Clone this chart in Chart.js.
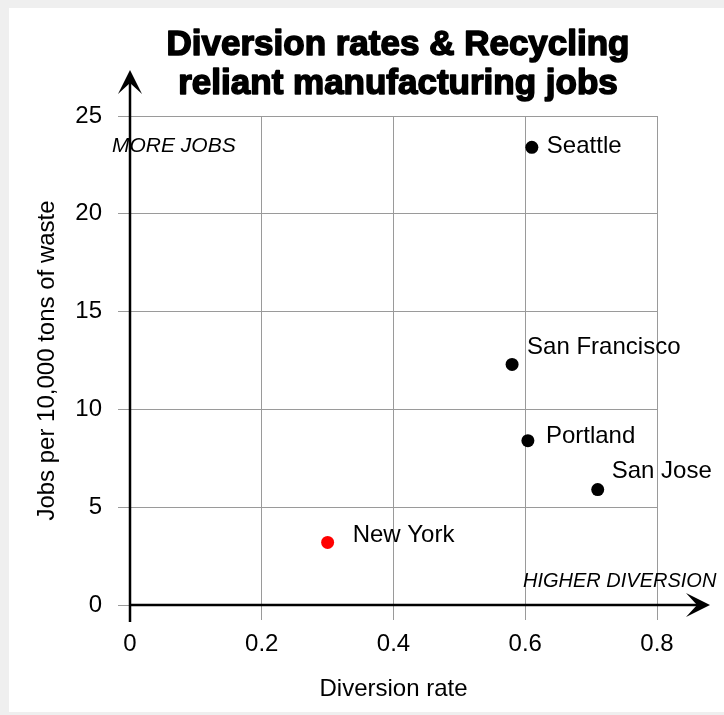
<!DOCTYPE html>
<html>
<head>
<meta charset="utf-8">
<script src="https://cdn.jsdelivr.net/npm/chart.js@4.4.1/dist/chart.umd.min.js"></script>
<style>
  html, body { margin: 0; padding: 0; background: #efefef; }
  canvas { display: block; }
</style>
</head>
<body>
<canvas id="chart" width="724" height="715"></canvas>
<script>
const cities = ['Seattle', 'San Francisco', 'Portland', 'San Jose', 'New York'];
const diversion = [0.61, 0.58, 0.604, 0.71, 0.30];
const jobs = [23.4, 12.3, 8.4, 5.9, 3.2];
const point_colors = ['#000', '#000', '#000', '#000', '#ff0000'];
const x_ticks = [0, 0.2, 0.4, 0.6, 0.8];
const y_ticks = [0, 5, 10, 15, 20, 25];
const title_lines = ['Diversion rates & Recycling', 'reliant manufacturing jobs'];

// where each city name sits relative to its dot
const label_offsets = [[15, -1], [15, -17], [18, -4], [14, -18], [25, -7]];

const FONT = '"Liberation Sans", Arial, sans-serif';

function arrow_head(ctx, tx, ty, dir) {
    // dir: 'up' or 'right'
    ctx.beginPath();
    if (dir === 'up') {
        ctx.moveTo(tx, ty);
        ctx.lineTo(tx + 12, ty + 24);
        ctx.lineTo(tx, ty + 13);
        ctx.lineTo(tx - 12, ty + 24);
    } else {
        ctx.moveTo(tx, ty);
        ctx.lineTo(tx - 24, ty - 12);
        ctx.lineTo(tx - 13, ty);
        ctx.lineTo(tx - 24, ty + 12);
    }
    ctx.closePath();
    ctx.fill();
}

const decor = {
    id: 'decor',
    beforeDraw(chart) {
        const ctx = chart.ctx;
        ctx.save();
        ctx.fillStyle = '#efefef';
        ctx.fillRect(0, 0, chart.width, chart.height);
        ctx.fillStyle = '#ffffff';
        ctx.fillRect(9, 8, chart.width - 9, chart.height - 11);
        ctx.restore();
    },
    afterDatasetsDraw(chart) {
        const ctx = chart.ctx;
        const xs = chart.scales.x, ys = chart.scales.y;
        const x0 = xs.getPixelForValue(0), y0 = ys.getPixelForValue(0);
        ctx.save();

        // axes with arrows
        ctx.strokeStyle = '#000';
        ctx.fillStyle = '#000';
        ctx.lineWidth = 2.5;
        ctx.beginPath();
        ctx.moveTo(x0, y0 + 17);
        ctx.lineTo(x0, 80);
        ctx.moveTo(x0, y0);
        ctx.lineTo(700, y0);
        ctx.stroke();
        arrow_head(ctx, x0, 70, 'up');
        arrow_head(ctx, 710, y0, 'right');

        // city labels
        ctx.font = '24px ' + FONT;
        ctx.textAlign = 'left';
        ctx.textBaseline = 'middle';
        cities.forEach((c, i) => {
            const px = xs.getPixelForValue(diversion[i]);
            const py = ys.getPixelForValue(jobs[i]);
            ctx.fillText(c, px + label_offsets[i][0], py + label_offsets[i][1]);
        });

        // direction notes
        ctx.font = 'italic 21px ' + FONT;
        ctx.textBaseline = 'alphabetic';
        ctx.fillText('MORE JOBS', 112, 152);
        ctx.font = 'italic 20px ' + FONT;
        ctx.fillText('HIGHER DIVERSION', 523, 587);

        // title, heavy weight faked with a stroke
        ctx.font = 'bold 35px ' + FONT;
        ctx.textAlign = 'center';
        ctx.lineWidth = 1.6;
        ctx.lineJoin = 'round';
        title_lines.forEach((t, i) => {
            ctx.fillText(t, 398, 55 + i * 39);
            ctx.strokeText(t, 398, 55 + i * 39);
        });
        ctx.restore();
    }
};

const ctx = document.getElementById('chart').getContext('2d');
const my_chart = new Chart(ctx, {
    type: 'scatter',
    data: {
        datasets: [{
            label: 'Cities',
            data: diversion.map((d, i) => ({x: d, y: jobs[i]})),
            pointRadius: 6.5,
            pointHoverRadius: 6.5,
            pointBackgroundColor: point_colors,
            pointBorderColor: point_colors,
            pointBorderWidth: 0
        }]
    },
    options: {
        responsive: false,
        animation: false,
        events: [],
        layout: { padding: { top: 116, right: 67, left: 0, bottom: 0 } },
        plugins: { legend: { display: false }, tooltip: { enabled: false } },
        scales: {
            x: {
                type: 'linear',
                min: x_ticks[0],
                max: x_ticks[x_ticks.length - 1],
                afterBuildTicks: s => { s.ticks = x_ticks.map(v => ({value: v})); },
                afterFit: s => { s.height = 110; },
                grid: { color: '#9a9a9a', lineWidth: 1, tickLength: 15 },
                border: { display: false },
                ticks: { color: '#000', font: { family: FONT, size: 24 }, padding: 10, maxRotation: 0 },
                title: { display: true, text: 'Diversion rate', color: '#000',
                         font: { family: FONT, size: 24 }, padding: { top: 0, bottom: 11 } }
            },
            y: {
                type: 'linear',
                min: y_ticks[0],
                max: y_ticks[y_ticks.length - 1],
                afterBuildTicks: s => { s.ticks = y_ticks.map(v => ({value: v})); },
                afterFit: s => { s.width = 130; },
                grid: { color: '#9a9a9a', lineWidth: 1, tickLength: 12 },
                border: { display: false },
                ticks: { color: '#000', font: { family: FONT, size: 24 }, padding: 16 },
                title: { display: true, text: 'Jobs per 10,000 tons of waste', color: '#000',
                         font: { family: FONT, size: 24 }, padding: { top: 33, bottom: 0 } }
            }
        }
    },
    plugins: [decor]
});
</script>
</body>
</html>
